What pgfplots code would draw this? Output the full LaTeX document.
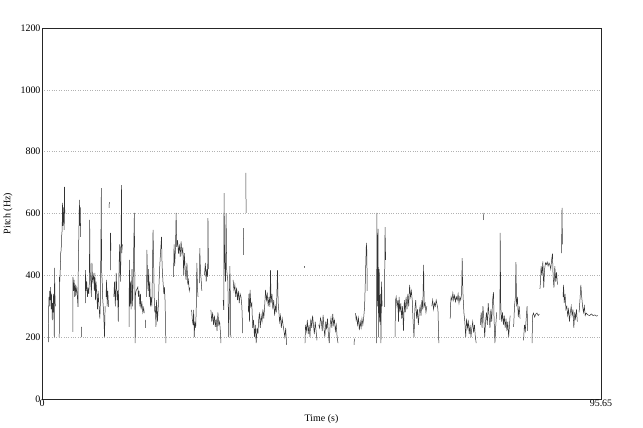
\documentclass[border=0pt]{standalone}
\usepackage{pgfplots}
\pgfplotsset{compat=1.18}
\usepackage{pgfplotstable}
\usepackage{fontspec}
\setmainfont{Liberation Serif}

\pgfplotstableread{
t Hz
1.10 184
1.12 281
1.20 330
1.25 300
1.32 350
1.40 320
1.48 362
1.55 290
1.62 340
1.70 300
1.76 255
1.82 310
1.90 280
1.96 340
2.02 300
2.10 200
2.15 424
2.20 350
2.28 300
nan nan
2.95 200
2.98 395
3.05 380
3.14 427
3.20 472
3.28 482
3.35 524
3.45 547
3.50 634
3.58 560
3.65 620
3.72 580
3.80 547
3.85 686
3.90 600
nan nan
5.28 217
5.30 395
5.40 350
5.50 385
5.60 330
5.70 370
5.80 340
5.95 360
6.05 330
6.16 298
6.22 459
6.30 524
6.40 644
6.48 560
6.55 620
6.62 524
nan nan
6.73 200
6.76 233
nan nan
7.40 310
7.45 417
7.55 350
7.65 380
7.78 330
7.90 360
8.00 340
8.10 375
8.16 579
8.22 420
8.35 380
8.45 330
8.55 440
8.65 380
8.84 400
8.95 350
9.05 408
9.15 320
9.25 380
9.40 330
9.50 290
9.60 350
9.75 300
9.90 260
10.00 320
10.15 682
10.20 417
10.30 380
10.40 320
10.55 280
10.70 200
10.80 300
nan nan
10.95 330
11.05 385
11.15 300
11.25 350
11.40 298
nan nan
11.48 618
11.52 637
nan nan
11.68 417
11.72 537
11.80 480
nan nan
12.30 330
12.40 380
12.55 300
12.70 408
12.85 320
12.95 350
13.05 250
13.10 310
13.20 440
13.30 500
13.40 380
13.50 450
13.60 692
13.65 472
13.75 500
nan nan
14.90 233
14.95 450
15.05 300
15.15 380
15.25 290
15.40 420
15.50 300
15.60 380
15.80 602
15.88 385
15.95 181
16.00 340
16.10 350
16.40 362
16.50 330
16.60 350
16.75 300
16.85 340
16.95 290
17.10 310
17.25 280
17.40 295
17.50 278
nan nan
17.70 256
17.75 230
nan nan
17.90 330
17.95 482
18.05 400
18.15 350
18.25 420
18.35 330
18.45 380
18.55 300
18.65 330
18.80 300
18.90 417
19.00 547
19.10 450
19.20 330
19.30 280
19.40 300
19.50 233
19.60 320
19.75 250
19.90 300
20.00 362
20.15 430
20.30 480
20.45 524
20.55 430
20.70 380
20.85 340
20.95 362
21.05 320
21.20 181
nan nan
22.50 395
22.60 500
22.70 430
22.85 490
22.95 602
23.05 492
23.20 514
23.35 470
23.50 500
23.65 460
23.80 510
23.95 470
24.10 490
24.25 400
24.35 472
24.50 420
24.65 385
24.80 440
24.95 370
25.05 385
25.20 350
25.30 360
nan nan
25.60 288
25.70 260
25.85 240
25.95 288
26.05 200
26.15 250
26.30 230
26.40 300
26.50 440
26.60 360
26.70 330
nan nan
26.95 375
27.00 488
27.10 420
27.25 380
27.35 350
nan nan
27.80 400
27.95 440
28.10 380
28.20 420
28.35 395
28.40 585
28.48 420
nan nan
28.90 288
29.05 250
29.20 280
29.35 240
29.50 270
29.65 233
29.80 260
29.95 220
30.10 280
30.25 240
30.40 250
30.55 210
30.62 181
nan nan
31.00 320
31.10 288
31.15 666
31.25 450
31.40 380
31.50 600
31.60 420
31.80 380
31.95 200
32.05 320
32.15 430
32.25 300
32.30 200
nan nan
32.70 385
32.85 350
33.00 370
33.15 330
33.30 360
33.45 320
33.60 350
33.75 310
33.90 340
34.05 330
34.20 300
34.35 213
nan nan
34.45 553
34.52 466
nan nan
34.88 731
34.92 602
nan nan
35.30 280
35.40 340
35.50 250
35.60 353
35.75 300
35.90 310
36.05 230
36.20 256
36.35 200
36.50 240
36.65 181
36.80 230
36.95 210
37.05 250
37.20 280
37.35 230
37.50 270
37.65 250
37.80 290
37.95 260
38.10 300
38.25 353
38.40 320
38.55 340
38.70 300
38.85 330
39.00 298
39.10 417
39.20 310
39.35 340
39.50 290
39.65 320
39.80 270
39.95 300
40.10 280
40.30 417
40.40 313
40.50 290
40.65 250
40.80 270
40.95 230
41.10 260
41.25 240
41.40 220
41.55 200
41.70 230
41.85 175
nan nan
44.88 424
44.95 430
nan nan
45.00 181
45.10 240
45.25 220
45.40 256
45.55 210
45.70 240
45.85 200
46.00 260
46.15 230
46.30 270
46.45 240
46.60 210
46.75 250
46.90 220
47.05 190
nan nan
47.35 240
47.50 230
47.65 262
47.80 250
47.95 220
48.10 272
48.25 230
48.40 200
48.55 250
48.70 225
48.85 260
49.00 210
49.15 181
49.30 240
49.45 262
49.60 230
49.75 275
49.90 240
50.05 255
50.20 220
50.35 240
50.50 200
50.65 181
nan nan
53.40 175
53.45 195
nan nan
53.65 278
53.75 256
53.85 265
54.00 240
54.15 262
54.30 223
54.45 250
54.60 230
54.75 260
54.90 240
55.05 265
55.20 298
55.35 400
55.50 505
55.58 480
55.65 350
nan nan
57.25 181
57.30 602
57.40 300
57.50 550
57.60 200
57.70 420
57.80 250
57.90 340
58.00 181
58.10 380
58.20 300
nan nan
58.60 298
58.70 556
58.80 450
nan nan
60.40 200
60.50 320
60.60 330
60.75 300
60.90 320
61.00 250
61.10 330
61.25 280
61.40 310
61.55 260
61.70 300
61.85 220
62.00 320
62.15 280
62.30 330
62.45 290
62.60 340
62.75 300
62.90 369
63.05 330
63.20 350
63.35 320
63.50 250
63.65 200
63.80 290
63.95 320
64.10 260
64.25 290
64.40 240
64.55 280
64.70 300
64.85 270
65.00 320
65.15 290
65.30 434
65.40 300
65.55 310
65.70 280
65.85 300
nan nan
66.70 300
66.85 320
67.00 290
67.15 310
67.30 300
67.45 320
67.60 305
67.75 290
67.90 181
nan nan
69.85 260
69.90 300
70.00 330
70.15 320
70.30 343
70.45 320
70.60 335
70.75 315
70.90 330
71.05 320
71.20 340
71.35 310
71.50 330
71.65 320
71.80 340
71.90 456
71.95 395
72.05 330
72.20 278
72.35 250
72.50 200
72.65 260
72.80 230
72.95 250
73.10 210
73.25 240
73.40 200
73.55 230
73.70 250
73.85 215
74.00 240
74.15 200
74.30 181
nan nan
75.00 240
75.15 280
75.30 230
75.45 300
75.60 260
75.75 200
75.90 250
76.05 280
76.20 240
76.35 310
76.50 270
76.65 230
76.80 290
76.95 250
77.10 320
77.25 346
77.35 260
77.50 181
77.65 240
77.80 280
nan nan
75.55 579
75.60 602
nan nan
78.35 256
78.40 537
78.50 300
78.65 250
78.80 280
78.95 240
79.10 270
79.25 230
79.40 260
79.55 220
79.70 250
79.85 200
80.00 240
80.10 270
nan nan
80.70 233
80.85 300
81.00 330
81.10 443
81.20 300
81.35 330
81.50 265
81.65 300
81.80 260
nan nan
82.40 190
82.55 240
82.70 220
82.85 260
83.00 300
83.10 220
nan nan
83.85 181
83.95 270
84.10 278
84.30 265
84.50 275
84.70 278
84.90 270
85.10 275
nan nan
85.20 356
85.30 380
85.40 430
85.55 400
85.70 445
85.85 360
86.00 420
86.15 440
86.30 435
86.45 443
86.60 430
86.75 440
86.90 434
87.05 420
87.20 450
87.35 470
87.45 400
87.60 360
87.75 430
87.90 380
88.05 410
88.20 370
nan nan
88.90 472
88.98 618
89.05 500
nan nan
89.15 330
89.25 369
89.35 310
89.50 340
89.65 290
89.80 300
89.95 270
90.10 290
90.25 250
90.40 280
90.55 300
90.70 270
90.85 290
91.00 230
91.15 280
91.30 260
91.45 290
91.60 250
nan nan
91.90 280
92.05 320
92.20 369
92.35 330
92.50 300
92.65 280
92.80 300
92.95 270
93.10 278
93.40 272
93.70 270
94.00 275
94.30 270
94.60 272
94.90 268
95.10 270
}\pitch

\begin{document}
\begin{tikzpicture}[font=\fontsize{10}{12}\selectfont]
\begin{axis}[
  scale only axis,
  width=559bp, height=371bp,
  xmin=0, xmax=95.65, ymin=0, ymax=1200,
  xtick={0,95.65}, xticklabels={0,95.65},
  ytick={0,200,400,600,800,1000,1200},
  yticklabels={0,200,400,600,800,1000,1200},
  major tick length=0pt,
  xticklabel style={yshift=3bp},
  yticklabel style={xshift=2bp},
  ymajorgrids,
  grid style={dotted, gray!60, line width=0.45pt},
  axis line style={line width=0.8pt, black!85},
  unbounded coords=jump,
  xlabel={Time (s)},
  ylabel={Pitch (Hz)},
  xlabel style={at={(axis description cs:0.5,-0.054)}, anchor=center},
  ylabel style={at={(axis description cs:-0.061,0.5)}, anchor=center},
  clip=true,
]
\addplot[black!80, line width=0.5pt, mark=none] table[x=t, y=Hz] {\pitch};
\end{axis}
\pgfresetboundingbox
\path[use as bounding box] (-42bp,-29bp) rectangle (601bp,399bp);
\end{tikzpicture}
\end{document}
